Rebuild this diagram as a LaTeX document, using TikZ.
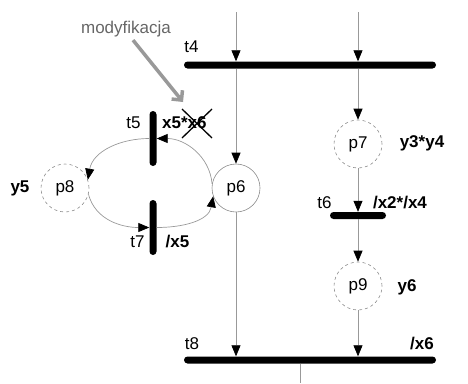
\documentclass[tikz,border=0pt]{standalone}
\usepackage{fontspec}
\setmainfont{Liberation Sans}
\usetikzlibrary{arrows.meta}

\begin{document}
\begin{tikzpicture}[x=1pt,y=1pt,
  font=\fontsize{17}{20}\selectfont,
  arc/.style={draw=black!40, line width=0.7pt, -{Triangle[length=11pt,width=9pt,color=black]}},
  plain/.style={draw=black!40, line width=0.7pt},
  hbar/.style={fill=black, rounded corners=3.5pt, minimum height=7pt, inner sep=0pt},
  vbar/.style={fill=black, rounded corners=3.5pt, minimum width=7pt, inner sep=0pt},
  place/.style={circle, draw=black!45, line width=0.6pt, minimum size=48pt, inner sep=0pt},
  dplace/.style={place, dashed},
  lab/.style={inner sep=0pt},
  cond/.style={inner sep=0pt, font=\fontsize{17}{20}\selectfont\bfseries},
  hint/.style={draw=black!40, line width=3.5pt, -{Straight Barb[length=7pt,width=14pt]}}]

\useasboundingbox (0,0) rectangle (468,-383);

% transitions
\node[hbar, minimum width=252pt] (t4) at (310,-65) {};
\node[hbar, minimum width=252pt] (t8) at (310,-360) {};
\node[hbar, minimum width=56pt] (t6) at (358,-215.5) {};
\node[vbar, minimum height=55pt] (t5) at (153,-138.5) {};
\node[vbar, minimum height=55pt] (t7) at (153,-227.5) {};

% places
\node[place] (p6) at (236,-188) {p6};
\node[dplace] (p7) at (358,-144) {p7};
\node[dplace] (p9) at (358,-286) {p9};
\node[dplace] (p8) at (65,-188) {p8};

% free ends
\coordinate (in1) at (236,-12);
\coordinate (in2) at (358,-12);
\coordinate (out) at (300,-383);

% straight arcs
\draw[arc] (in1) -- (in1 |- t4.north);
\draw[arc] (in2) -- (in2 |- t4.north);
\draw[arc] (t4.south -| p6) -- (p6);
\draw[arc] (p6) -- (p6 |- t8.north);
\draw[arc] (t4.south -| p7) -- (p7);
\draw[arc] (p7) -- (t6);
\draw[arc] (t6) -- (p9);
\draw[arc] (p9) -- (p9 |- t8.north);
\draw[plain] (t8.south -| out) -- (out);

% loop between p6 and p8
\draw[arc] (p6.170) to[out=95,in=0] (t5.east);
\draw[arc] (t5.west) to[out=180,in=80] (p8.20);
\draw[arc] (p8.-15) to[out=-75,in=180] (t7.west);
\draw[arc] (t7.east) to[out=0,in=-100] (p6.200);

% labels
\node[lab] (t4l) at (191.5,-47) {t4};
\node[lab] (t5l) at (133.5,-123) {t5};
\node[cond, anchor=west] (c5) at (162,-123) {x5*x6};
\node[lab] (t7l) at (137.5,-241.5) {t7};
\node[cond] (c7) at (177.5,-241.5) {/x5};
\node[cond] (y5) at (20,-188) {y5};
\node[cond] (y34) at (422,-143) {y3*y4};
\node[lab] (t6l) at (324.5,-203) {t6};
\node[cond] (c6) at (400,-203) {/x2*/x4};
\node[cond] (y6) at (407,-287) {y6};
\node[lab] (t8l) at (192,-344) {t8};
\node[cond] (c8) at (422,-344) {/x6};
\node[lab, text=black!60] (mod) at (126,-29) {modyfikacja};

% crossed-out term and the pointer to it
\draw[line width=1.3pt] (182,-109) -- (212,-138) (212,-109) -- (182,-138);
\coordinate (modtip) at (183,-102);
\draw[hint] ([xshift=7pt,yshift=-3pt]mod.south) -- (modtip);
\end{tikzpicture}
\end{document}
